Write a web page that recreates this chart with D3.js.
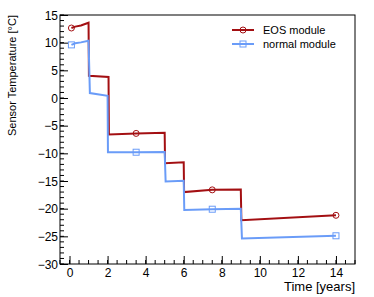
<!DOCTYPE html>
<html>
<head>
<meta charset="utf-8">
<script src="https://cdn.jsdelivr.net/npm/d3@7"></script>
<style>
  body { margin: 0; background: #fff; }
  text { font-family: "Liberation Sans", Arial, Helvetica, sans-serif; }
</style>
</head>
<body>
<svg id="chart" width="374" height="297"></svg>
<script>
'use strict';

// time axis (years) of every point, one list per module
var eosTime    = [0.1, 0.3, 0.6, 1.0, 1.02, 2.05, 2.07, 3.5, 5.0, 5.02, 6.0, 6.02, 7.5, 9.0, 9.03, 14.0];
var eosTemp    = [12.65, 12.9, 13.1, 13.6, 4.0, 3.8, -6.6, -6.4, -6.3, -11.8, -11.6, -17.0, -16.6, -16.55, -22.1, -21.2];
var normalTime = [0.1, 0.3, 0.6, 1.0, 1.07, 2.0, 2.02, 3.5, 5.0, 5.05, 6.0, 6.03, 7.5, 9.0, 9.06, 14.0];
var normalTemp = [9.6, 9.9, 10.05, 10.35, 0.9, 0.4, -9.8, -9.8, -9.75, -15.1, -14.95, -20.25, -20.1, -20.0, -25.4, -24.9];
// indices of points that carry a marker
var markerIdx  = [0, 7, 12, 15];

var seriesNames = ['EOS module', 'normal module'];
var xTicks = [0, 2, 4, 6, 8, 10, 12, 14];
var yTicks = [-30, -25, -20, -15, -10, -5, 0, 5, 10, 15];

var margin = { top: 15, right: 19, bottom: 33, left: 60 };
var width = 374 - margin.left - margin.right;
var height = 297 - margin.top - margin.bottom;

var svg = d3.select('#chart');
var g = svg.append('g')
  .attr('transform', 'translate(' + margin.left + ',' + margin.top + ')');

var x = d3.scaleLinear().domain([-0.5, 15]).range([0, width]);
var y = d3.scaleLinear().domain([-30, 15]).range([height, 0]);

// frame
g.append('rect')
  .attr('width', width)
  .attr('height', height)
  .attr('fill', 'none')
  .attr('stroke', '#000')
  .attr('stroke-width', 1);

// minor ticks (inside frame, ROOT style)
var xMinor = d3.range(-0.5, 15.01, 0.5);
var yMinor = d3.range(-30, 15.01, 1);

g.append('g').selectAll('line')
  .data(xMinor)
  .enter().append('line')
  .attr('x1', (d) => x(d)).attr('x2', (d) => x(d))
  .attr('y1', height).attr('y2', height - 4)
  .attr('stroke', '#000');

g.append('g').selectAll('line')
  .data(yMinor)
  .enter().append('line')
  .attr('x1', 0).attr('x2', 4)
  .attr('y1', (d) => y(d)).attr('y2', (d) => y(d))
  .attr('stroke', '#000');

// major axes
var xAxis = g.append('g')
  .attr('transform', 'translate(0,' + height + ')')
  .call(d3.axisBottom(x).tickValues(xTicks).tickSizeInner(-8).tickSizeOuter(0).tickPadding(4));

var yAxis = g.append('g')
  .call(d3.axisLeft(y).tickValues(yTicks).tickSizeInner(-8).tickSizeOuter(0).tickPadding(2));

[xAxis, yAxis].forEach((ax) => {
  ax.select('.domain').remove();
  ax.selectAll('text')
    .attr('font-size', 12)
    .attr('fill', '#000')
    .style('font-family', '"Liberation Sans", Arial, sans-serif');
});
yAxis.selectAll('text').attr('dy', '0.36em');

// axis titles
g.append('text')
  .attr('x', width)
  .attr('y', height + 27)
  .attr('text-anchor', 'end')
  .attr('font-size', 13)
  .text('Time [years]');

svg.append('text')
  .attr('transform', 'translate(16,' + margin.top + ') rotate(-90)')
  .attr('text-anchor', 'end')
  .attr('font-size', 11)
  .text('Sensor Temperature [°C]');

// series
var colors = ['#a30f12', '#6a9cf8'];
var series = [
  { name: seriesNames[0], time: eosTime, temp: eosTemp, color: colors[0], marker: 'circle' },
  { name: seriesNames[1], time: normalTime, temp: normalTemp, color: colors[1], marker: 'square' }
];

var line = d3.line()
  .x((d) => x(d[0]))
  .y((d) => y(d[1]));

function drawMarker(sel, type, color) {
  if (type === 'circle') {
    sel.append('circle')
      .attr('r', 3)
      .attr('fill', 'none')
      .attr('stroke', color)
      .attr('stroke-width', 1);
  } else {
    sel.append('rect')
      .attr('x', -3).attr('y', -3)
      .attr('width', 6).attr('height', 6)
      .attr('fill', 'none')
      .attr('stroke', color)
      .attr('stroke-width', 1);
  }
}

series.forEach((s) => {
  var pts = s.time.map((t, i) => [t, s.temp[i]]);

  g.append('path')
    .datum(pts)
    .attr('d', line)
    .attr('fill', 'none')
    .attr('stroke', s.color)
    .attr('stroke-width', 2);

  markerIdx.forEach((i) => {
    var m = g.append('g')
      .attr('transform', 'translate(' + x(pts[i][0]) + ',' + y(pts[i][1]) + ')');
    drawMarker(m, s.marker, s.color);
  });
});

// legend
var legend = svg.append('g').attr('transform', 'translate(232,30)');
series.forEach((s, i) => {
  var row = legend.append('g').attr('transform', 'translate(0,' + (i * 14) + ')');
  row.append('line')
    .attr('x1', 0).attr('x2', 22)
    .attr('stroke', s.color)
    .attr('stroke-width', 2);
  drawMarker(row.append('g').attr('transform', 'translate(11,0)'), s.marker, s.color);
  row.append('text')
    .attr('x', 31)
    .attr('dy', '0.36em')
    .attr('font-size', 11)
    .text(s.name);
});
</script>
</body>
</html>
